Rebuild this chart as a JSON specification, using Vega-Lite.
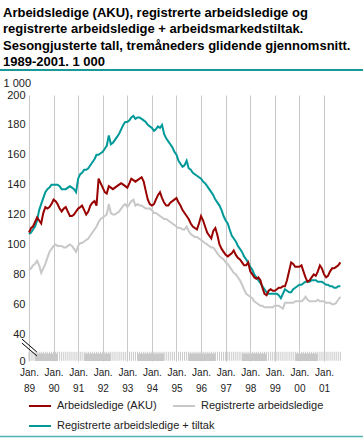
{
  "$schema": "https://vega.github.io/schema/vega-lite/v6.json",
  "width": 314,
  "height": 266,
  "autosize": "none",
  "padding": {"left": 29, "top": 95, "right": 20, "bottom": 77},
  "config": {"font": "Liberation Sans", "view": {"stroke": null}},
  "title": {
    "text": ["Arbeidsledige (AKU), registrerte arbeidsledige og", "registrerte arbeidsledige + arbeidsmarkedstiltak.", "Sesongjusterte tall, tremåneders glidende gjennomsnitt.", "1989-2001. 1 000"],
    "anchor": "start", "frame": "group", "dx": -26, "offset": 0,
    "fontSize": 13, "fontWeight": "bold", "lineHeight": 16.3, "color": "#000"
  },
  "data": {"name": "main", "format": {"parse": {"d": "utc:'%Y-%m'"}}},
  "datasets": {
    "main": [
      {"d":"1989-01","a":108,"r":83,"t":107},{"d":"1989-02","a":111,"r":84,"t":108},{"d":"1989-03","a":112,"r":86,"t":110},{"d":"1989-04","a":115,"r":87,"t":112},{"d":"1989-05","a":118,"r":89,"t":116},{"d":"1989-06","a":116,"r":86,"t":123},{"d":"1989-07","a":114,"r":81,"t":127},{"d":"1989-08","a":121,"r":84,"t":131},{"d":"1989-09","a":125,"r":87,"t":135},{"d":"1989-10","a":124,"r":91,"t":137},{"d":"1989-11","a":125,"r":95,"t":138},{"d":"1989-12","a":127,"r":97,"t":140},
      {"d":"1990-01","a":130,"r":99,"t":140},{"d":"1990-02","a":129,"r":100,"t":140},{"d":"1990-03","a":127,"r":99,"t":140},{"d":"1990-04","a":124,"r":99,"t":139},{"d":"1990-05","a":122,"r":99,"t":137},{"d":"1990-06","a":124,"r":98,"t":137},{"d":"1990-07","a":125,"r":98,"t":137},{"d":"1990-08","a":122,"r":99,"t":138},{"d":"1990-09","a":119,"r":100,"t":139},{"d":"1990-10","a":119,"r":99,"t":138},{"d":"1990-11","a":120,"r":97,"t":137},{"d":"1990-12","a":122,"r":95,"t":135},
      {"d":"1991-01","a":124,"r":99,"t":144},{"d":"1991-02","a":125,"r":101,"t":147},{"d":"1991-03","a":126,"r":101,"t":148},{"d":"1991-04","a":123,"r":102,"t":150},{"d":"1991-05","a":120,"r":103,"t":150},{"d":"1991-06","a":122,"r":104,"t":151},{"d":"1991-07","a":126,"r":106,"t":153},{"d":"1991-08","a":128,"r":108,"t":155},{"d":"1991-09","a":129,"r":110,"t":157},{"d":"1991-10","a":126,"r":112,"t":160},{"d":"1991-11","a":144,"r":115,"t":160},{"d":"1991-12","a":141,"r":117,"t":161},
      {"d":"1992-01","a":138,"r":118,"t":162},{"d":"1992-02","a":135,"r":119,"t":164},{"d":"1992-03","a":134,"r":120,"t":166},{"d":"1992-04","a":139,"r":127,"t":173},{"d":"1992-05","a":138,"r":121,"t":167},{"d":"1992-06","a":137,"r":120,"t":168},{"d":"1992-07","a":138,"r":120,"t":170},{"d":"1992-08","a":139,"r":121,"t":172},{"d":"1992-09","a":140,"r":122,"t":174},{"d":"1992-10","a":141,"r":124,"t":177},{"d":"1992-11","a":140,"r":126,"t":180},{"d":"1992-12","a":139,"r":127,"t":182},
      {"d":"1993-01","a":138,"r":125,"t":182},{"d":"1993-02","a":141,"r":127,"t":183},{"d":"1993-03","a":144,"r":129,"t":185},{"d":"1993-04","a":143,"r":130,"t":186},{"d":"1993-05","a":142,"r":126,"t":184},{"d":"1993-06","a":143,"r":127,"t":185},{"d":"1993-07","a":144,"r":126,"t":185},{"d":"1993-08","a":145,"r":126,"t":184},{"d":"1993-09","a":142,"r":125,"t":183},{"d":"1993-10","a":136,"r":124,"t":182},{"d":"1993-11","a":130,"r":124,"t":180},{"d":"1993-12","a":127,"r":124,"t":179},
      {"d":"1994-01","a":126,"r":123,"t":178},{"d":"1994-02","a":127,"r":121,"t":176},{"d":"1994-03","a":130,"r":121,"t":177},{"d":"1994-04","a":133,"r":120,"t":179},{"d":"1994-05","a":135,"r":119,"t":178},{"d":"1994-06","a":131,"r":118,"t":180},{"d":"1994-07","a":128,"r":117,"t":174},{"d":"1994-08","a":126,"r":117,"t":171},{"d":"1994-09","a":126,"r":116,"t":169},{"d":"1994-10","a":128,"r":115,"t":167},{"d":"1994-11","a":129,"r":114,"t":165},{"d":"1994-12","a":130,"r":113,"t":162},
      {"d":"1995-01","a":131,"r":112,"t":160},{"d":"1995-02","a":128,"r":111,"t":156},{"d":"1995-03","a":126,"r":111,"t":154},{"d":"1995-04","a":123,"r":110,"t":152},{"d":"1995-05","a":121,"r":110,"t":153},{"d":"1995-06","a":119,"r":112,"t":156},{"d":"1995-07","a":117,"r":109,"t":151},{"d":"1995-08","a":114,"r":107,"t":150},{"d":"1995-09","a":112,"r":106,"t":148},{"d":"1995-10","a":111,"r":105,"t":147},{"d":"1995-11","a":110,"r":105,"t":146},{"d":"1995-12","a":114,"r":104,"t":145},
      {"d":"1996-01","a":119,"r":103,"t":144},{"d":"1996-02","a":116,"r":102,"t":142},{"d":"1996-03","a":112,"r":101,"t":141},{"d":"1996-04","a":108,"r":100,"t":139},{"d":"1996-05","a":106,"r":99,"t":137},{"d":"1996-06","a":104,"r":98,"t":135},{"d":"1996-07","a":109,"r":98,"t":133},{"d":"1996-08","a":111,"r":96,"t":130},{"d":"1996-09","a":106,"r":94,"t":128},{"d":"1996-10","a":100,"r":92,"t":126},{"d":"1996-11","a":97,"r":91,"t":123},{"d":"1996-12","a":95,"r":90,"t":119},
      {"d":"1997-01","a":93,"r":88,"t":116},{"d":"1997-02","a":92,"r":87,"t":114},{"d":"1997-03","a":93,"r":85,"t":110},{"d":"1997-04","a":94,"r":83,"t":106},{"d":"1997-05","a":96,"r":81,"t":104},{"d":"1997-06","a":93,"r":80,"t":102},{"d":"1997-07","a":91,"r":78,"t":99},{"d":"1997-08","a":90,"r":76,"t":97},{"d":"1997-09","a":88,"r":73,"t":95},{"d":"1997-10","a":86,"r":70,"t":92},{"d":"1997-11","a":86,"r":67,"t":90},{"d":"1997-12","a":88,"r":66,"t":88},
      {"d":"1998-01","a":82,"r":65,"t":85},{"d":"1998-02","a":80,"r":64,"t":83},{"d":"1998-03","a":78,"r":62,"t":80},{"d":"1998-04","a":77,"r":61,"t":78},{"d":"1998-05","a":78,"r":60,"t":76},{"d":"1998-06","a":76,"r":59,"t":74},{"d":"1998-07","a":71,"r":59,"t":72},{"d":"1998-08","a":67,"r":58,"t":70},{"d":"1998-09","a":66,"r":58,"t":68},{"d":"1998-10","a":69,"r":58,"t":67},{"d":"1998-11","a":70,"r":58,"t":67},{"d":"1998-12","a":69,"r":58,"t":67},
      {"d":"1999-01","a":69,"r":59,"t":67},{"d":"1999-02","a":70,"r":59,"t":67},{"d":"1999-03","a":71,"r":59,"t":66},{"d":"1999-04","a":71,"r":58,"t":64},{"d":"1999-05","a":72,"r":57,"t":67},{"d":"1999-06","a":72,"r":61,"t":70},{"d":"1999-07","a":76,"r":61,"t":69},{"d":"1999-08","a":82,"r":61,"t":68},{"d":"1999-09","a":88,"r":61,"t":68},{"d":"1999-10","a":87,"r":61,"t":70},{"d":"1999-11","a":85,"r":62,"t":71},{"d":"1999-12","a":85,"r":62,"t":72},
      {"d":"2000-01","a":85,"r":62,"t":73},{"d":"2000-02","a":86,"r":62,"t":73},{"d":"2000-03","a":82,"r":63,"t":74},{"d":"2000-04","a":78,"r":65,"t":75},{"d":"2000-05","a":75,"r":63,"t":75},{"d":"2000-06","a":76,"r":62,"t":75},{"d":"2000-07","a":78,"r":62,"t":76},{"d":"2000-08","a":80,"r":62,"t":76},{"d":"2000-09","a":79,"r":62,"t":76},{"d":"2000-10","a":82,"r":63,"t":75},{"d":"2000-11","a":86,"r":62,"t":75},{"d":"2000-12","a":84,"r":62,"t":75},
      {"d":"2001-01","a":80,"r":62,"t":74},{"d":"2001-02","a":78,"r":61,"t":73},{"d":"2001-03","a":79,"r":61,"t":73},{"d":"2001-04","a":82,"r":61,"t":72},{"d":"2001-05","a":84,"r":60,"t":72},{"d":"2001-06","a":84,"r":60,"t":71},{"d":"2001-07","a":85,"r":61,"t":71},{"d":"2001-08","a":86,"r":63,"t":72},{"d":"2001-09","a":88,"r":65,"t":72}
    ],
    "bands": [
      {"s":"1989-04","e":"1990-03"},{"s":"1991-04","e":"1992-05"},{"s":"1993-06","e":"1994-07"},{"s":"1995-07","e":"1996-08"},{"s":"1997-09","e":"1998-09"},{"s":"1999-11","e":"2000-10"}
    ]
  },
  "layer": [
    {
      "data": {"name": "bands", "format": {"parse": {"s": "utc:'%Y-%m'", "e": "utc:'%Y-%m'"}}},
      "mark": {"type": "rect", "color": "#c8c8c8"},
      "encoding": {
        "x": {"field": "s", "type": "temporal", "title": null},
        "x2": {"field": "e"},
        "y": {"datum": 22, "type": "quantitative"},
        "y2": {"datum": 27}
      }
    },
    {
      "mark": {"type": "tick", "orient": "vertical", "color": "#c8c8c8", "size": 9, "thickness": 1, "opacity": 1},
      "encoding": {
        "x": {"field": "d", "type": "temporal", "title": null},
        "y": {"datum": 25.2, "type": "quantitative"}
      }
    },
    {
      "transform": [{"fold": ["r"], "as": ["k", "v"]}],
      "mark": {"type": "line", "strokeWidth": 2},
      "encoding": {
        "x": {
          "field": "d", "type": "temporal", "title": null,
          "scale": {"type": "utc", "domain": [{"year": 1989, "month": 1, "date": 1, "utc": true}, {"year": 2001, "month": 10, "date": 10, "utc": true}]},
          "axis": {
            "values": [
              {"year": 1989, "month": 1, "date": 1, "utc": true}, {"year": 1990, "month": 1, "date": 1, "utc": true}, {"year": 1991, "month": 1, "date": 1, "utc": true}, {"year": 1992, "month": 1, "date": 1, "utc": true}, {"year": 1993, "month": 1, "date": 1, "utc": true}, {"year": 1994, "month": 1, "date": 1, "utc": true}, {"year": 1995, "month": 1, "date": 1, "utc": true}, {"year": 1996, "month": 1, "date": 1, "utc": true}, {"year": 1997, "month": 1, "date": 1, "utc": true}, {"year": 1998, "month": 1, "date": 1, "utc": true}, {"year": 1999, "month": 1, "date": 1, "utc": true}, {"year": 2000, "month": 1, "date": 1, "utc": true}, {"year": 2001, "month": 1, "date": 1, "utc": true}
            ],
            "tickCount": 30,
            "labelExpr": "['Jan.', utcFormat(datum.value, '%y')]",
            "domain": false, "ticks": false, "tickSize": 0, "grid": true, "gridColor": "#c8c8c8", "gridWidth": 1,
            "labelPadding": 6, "labelFontSize": 10, "labelLineHeight": 16, "labelColor": "#222", "labelFlush": false, "labelOverlap": false
          }
        },
        "y": {
          "field": "v", "type": "quantitative",
          "scale": {"domain": [22, 200], "nice": false, "zero": false},
          "axis": {
            "values": [22, 40, 60, 80, 100, 120, 140, 160, 180, 200],
            "tickCount": 30,
            "labelExpr": "datum.value < 30 ? '0' : datum.label",
            "domain": false, "ticks": false, "tickSize": 0, "labelPadding": 4, "labelFontSize": 11, "labelColor": "#222", "labelOverlap": false,
            "gridColor": "#c8c8c8", "gridWidth": 1.6,
            "title": "1 000", "titleAngle": 0, "titleAlign": "left", "titleBaseline": "middle", "titleX": -26, "titleY": -12,
            "titleFontSize": 11, "titleFontWeight": "normal", "titleColor": "#222"
          }
        },
        "color": {
          "field": "k", "type": "nominal",
          "scale": {"domain": ["a", "r"], "range": ["#990000", "#c8c8c8"]},
          "legend": {
            "orient": "none", "legendX": -1, "legendY": 299, "direction": "horizontal",
            "symbolType": "stroke", "symbolSize": 484, "symbolStrokeWidth": 2, "labelFontSize": 11, "labelColor": "#222",
            "columnPadding": 12, "labelOffset": 5, "title": null,
            "labelExpr": "datum.value == 'a' ? 'Arbeidsledige (AKU)' : 'Registrerte arbeidsledige'"
          }
        }
      }
    },
    {
      "transform": [{"fold": ["t"], "as": ["k", "v"]}],
      "mark": {"type": "line", "strokeWidth": 2},
      "encoding": {
        "x": {"field": "d", "type": "temporal", "title": null},
        "y": {"field": "v", "type": "quantitative"},
        "stroke": {
          "field": "k", "type": "nominal",
          "scale": {"domain": ["t"], "range": ["#009999"]},
          "legend": {
            "orient": "none", "legendX": -1, "legendY": 319, "direction": "horizontal",
            "symbolType": "stroke", "symbolSize": 484, "symbolStrokeWidth": 2, "labelFontSize": 11, "labelColor": "#222",
            "labelOffset": 5, "title": null,
            "labelExpr": "'Registrerte arbeidsledige + tiltak'"
          }
        }
      }
    },
    {
      "transform": [{"fold": ["a"], "as": ["k", "v"]}],
      "mark": {"type": "line", "strokeWidth": 2},
      "encoding": {
        "x": {"field": "d", "type": "temporal", "title": null},
        "y": {"field": "v", "type": "quantitative"},
        "color": {"field": "k", "type": "nominal"}
      }
    },
    {
      "data": {"values": [{}]},
      "mark": {"type": "rule", "color": "#000", "strokeWidth": 1},
      "encoding": {
        "x": {"datum": {"year": 1988, "month": 9, "date": 18, "utc": true}, "type": "temporal"},
        "x2": {"datum": {"year": 1989, "month": 4, "date": 28, "utc": true}},
        "y": {"datum": 36.7, "type": "quantitative"},
        "y2": {"datum": 28.0}
      }
    },
    {
      "data": {"values": [{}]},
      "mark": {"type": "rule", "color": "#000", "strokeWidth": 1},
      "encoding": {
        "x": {"datum": {"year": 1988, "month": 9, "date": 18, "utc": true}, "type": "temporal"},
        "x2": {"datum": {"year": 1989, "month": 4, "date": 28, "utc": true}},
        "y": {"datum": 34.0, "type": "quantitative"},
        "y2": {"datum": 25.4}
      }
    },
    {
      "data": {"values": [{}]},
      "mark": {"type": "rule", "color": "#1a9999", "strokeWidth": 2},
      "encoding": {
        "x": {"datum": {"year": 1987, "month": 10, "date": 27, "utc": true}, "type": "temporal"},
        "x2": {"datum": {"year": 2002, "month": 8, "date": 3, "utc": true}},
        "y": {"datum": 216.7, "type": "quantitative"}
      }
    },
    {
      "data": {"values": [{}]},
      "mark": {"type": "rule", "color": "#4db3b3", "strokeWidth": 1.5},
      "encoding": {
        "x": {"datum": {"year": 1987, "month": 10, "date": 27, "utc": true}, "type": "temporal"},
        "x2": {"datum": {"year": 2002, "month": 8, "date": 3, "utc": true}},
        "y": {"datum": -28.5, "type": "quantitative"}
      }
    }
  ]
}
